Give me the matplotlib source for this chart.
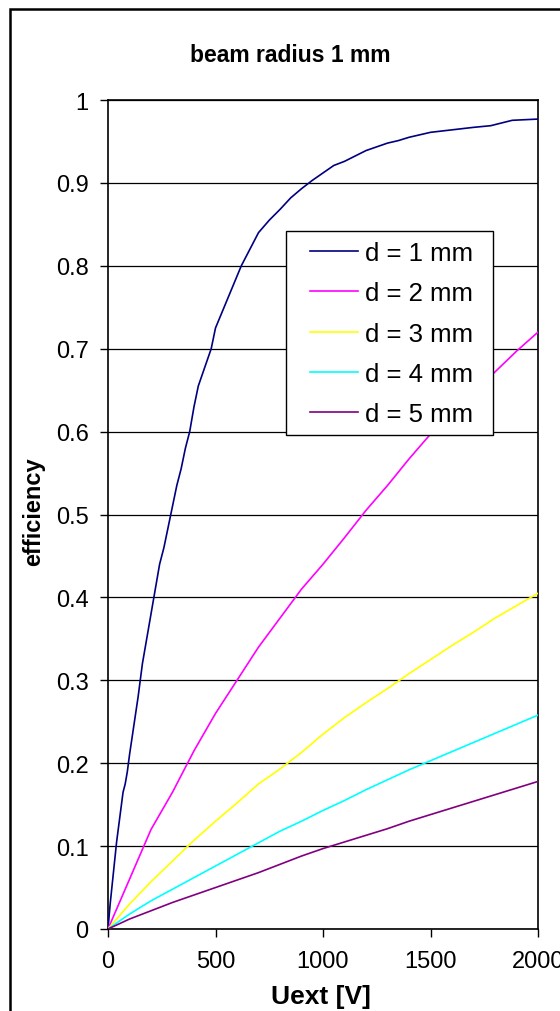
import matplotlib.pyplot as plt
from matplotlib.patches import Rectangle
from matplotlib.legend_handler import HandlerLine2D

plt.rcParams['font.family'] = ['Liberation Sans', 'DejaVu Sans']

# d = 1 mm
u1 = [0, 10, 20, 30, 40, 50, 60, 70, 80, 90, 100, 120, 140, 160, 180, 200, 220, 240,
      260, 280, 300, 320, 340, 360, 380, 400, 420, 440, 460, 480, 500, 540, 580, 620,
      660, 700, 750, 800, 850, 900, 950, 1000, 1050, 1100, 1200, 1300, 1350, 1400,
      1500, 1600, 1700, 1780, 1880, 2000]
eff1 = [0, 0.03, 0.055, 0.08, 0.105, 0.125, 0.145, 0.165, 0.175, 0.19, 0.21, 0.245,
        0.28, 0.32, 0.35, 0.38, 0.41, 0.44, 0.46, 0.485, 0.51, 0.535, 0.555, 0.58, 0.60,
        0.63, 0.655, 0.67, 0.685, 0.70, 0.725, 0.75, 0.775, 0.80, 0.82, 0.84, 0.855,
        0.868, 0.882, 0.893, 0.903, 0.912, 0.921, 0.926, 0.939, 0.948, 0.951, 0.955,
        0.961, 0.964, 0.967, 0.969, 0.9755, 0.977]

# d = 2..5 mm share the same voltage grid
u = [0, 100, 200, 300, 400, 500, 600, 700, 800, 900, 1000, 1100, 1200, 1300, 1400,
     1500, 1600, 1700, 1800, 1900, 2000]
eff2 = [0, 0.06, 0.12, 0.165, 0.215, 0.26, 0.30, 0.34, 0.375, 0.41, 0.44, 0.472, 0.505,
        0.535, 0.567, 0.597, 0.622, 0.647, 0.672, 0.697, 0.72]
eff3 = [0, 0.03, 0.057, 0.082, 0.107, 0.13, 0.152, 0.175, 0.193, 0.213, 0.235, 0.255,
        0.273, 0.29, 0.308, 0.325, 0.342, 0.358, 0.375, 0.39, 0.405]
eff4 = [0, 0.018, 0.034, 0.048, 0.062, 0.076, 0.09, 0.104, 0.118, 0.13, 0.143, 0.155,
        0.168, 0.18, 0.192, 0.203, 0.214, 0.225, 0.236, 0.247, 0.258]
eff5 = [0, 0.012, 0.022, 0.032, 0.041, 0.05, 0.059, 0.068, 0.078, 0.088, 0.097, 0.105,
        0.113, 0.121, 0.13, 0.138, 0.146, 0.154, 0.162, 0.17, 0.178]

labels = ['d = 1 mm', 'd = 2 mm', 'd = 3 mm', 'd = 4 mm', 'd = 5 mm']
colors = ['#000080', '#FF00FF', '#FFFF00', '#00FFFF', '#800080']
yticklabels = ['0', '0.1', '0.2', '0.3', '0.4', '0.5', '0.6', '0.7', '0.8', '0.9', '1']


class ShortLine(HandlerLine2D):
    # legend line only over the right part of the handle box (Excel look)
    def get_xdata(self, legend, xdescent, ydescent, width, height, fontsize):
        x0 = -xdescent + width * 0.22
        x1 = -xdescent + width
        return [x0, x1], [x0, x1]


fig = plt.figure(figsize=(5.6, 10.12), dpi=100)
ax = fig.add_axes([108 / 560, 1 - 930 / 1012, 430 / 560, 829 / 1012])

series = [(u1, eff1), (u, eff2), (u, eff3), (u, eff4), (u, eff5)]
for (x, y), lab, c in zip(series, labels, colors):
    ax.plot(x, y, color=c, lw=1.2, label=lab, zorder=3)

ax.set_xlim(0, 2000)
ax.set_ylim(0, 1)
ax.set_xticks([0, 500, 1000, 1500, 2000])
ax.set_yticks([i / 10 for i in range(11)])
ax.set_yticklabels(yticklabels)
ax.tick_params(direction='out', length=6, width=1, labelsize=17)
ax.tick_params(axis='y', pad=8)
ax.tick_params(axis='x', pad=9)
ax.yaxis.grid(True, color='black', lw=0.9)
ax.set_axisbelow(True)
for s in ax.spines.values():
    s.set_linewidth(1.2)

fig.text(321 / 560, 1 - 1004 / 1012, 'Uext [V]', fontsize=19, fontweight='bold',
         ha='center', va='baseline')
fig.text(34 / 560, 1 - 512 / 1012, 'efficiency', fontsize=17, fontweight='bold',
         ha='center', va='center', rotation=90)
fig.text(290 / 560, 1 - 62 / 1012, 'beam radius 1 mm', fontsize=16.5,
         fontweight='bold', ha='center', va='baseline')

# legend box drawn separately so its size matches the original
ax.add_patch(Rectangle((286 / 560, 1 - 436 / 1012), 207 / 560, 204 / 1012,
                       transform=fig.transFigure, facecolor='white',
                       edgecolor='black', lw=1.0, zorder=4, clip_on=False))
leg = ax.legend(loc='upper left', bbox_to_anchor=(286 / 560, 1 - 232 / 1012),
                bbox_transform=fig.transFigure, fontsize=18.5, frameon=False,
                handlelength=2.41, handletextpad=0.27, labelspacing=0.63,
                borderpad=0.4, borderaxespad=0,
                handler_map={plt.Line2D: ShortLine()})
leg.set_zorder(5)

# chart-area border, cut off at right and bottom like the original
fig.patches.append(Rectangle((10 / 560, -0.05), 1.0, 1 - 10 / 1012 + 0.05,
                             transform=fig.transFigure, fill=False,
                             edgecolor='black', lw=1.8))

plt.savefig('out.png', dpi=100)
